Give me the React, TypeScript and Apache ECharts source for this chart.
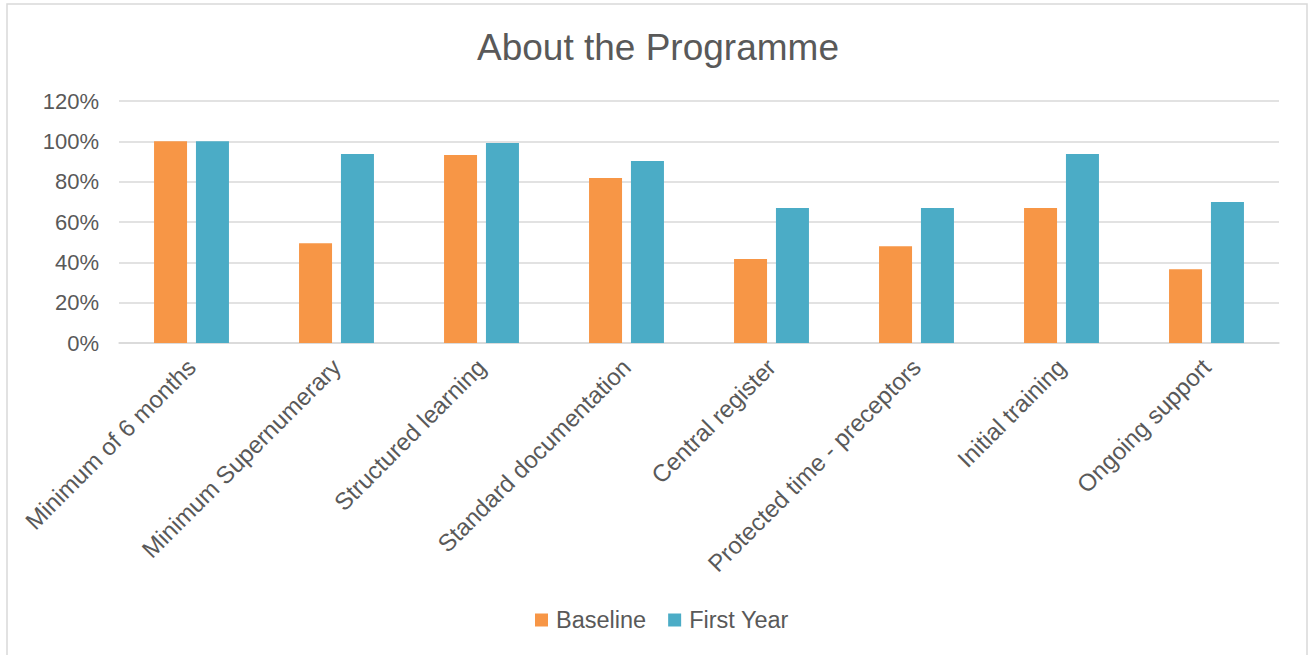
import React, { useEffect, useRef } from "react";
import * as echarts from "echarts";

const categories = [
  "Minimum of 6 months",
  "Minimum Supernumerary",
  "Structured learning",
  "Standard documentation",
  "Central register",
  "Protected time - preceptors",
  "Initial training",
  "Ongoing support",
];
const baseline = [1.0, 0.495, 0.932, 0.818, 0.416, 0.48, 0.669, 0.366];
const firstYear = [1.0, 0.937, 0.992, 0.902, 0.669, 0.669, 0.937, 0.699];
const seriesNames = ["Baseline", "First Year"];
const yTicks = { min: 0, max: 1.2, interval: 0.2 };

const FONT = "'Liberation Sans', Arial, sans-serif";
const TEXT = "#595959";
const GRIDC = "#d9d9d9";

export default function App() {
  const ref = useRef<HTMLDivElement>(null);
  useEffect(() => {
    if (!ref.current) return;
    const chart = echarts.init(ref.current, null, { renderer: "svg" });
    chart.setOption({
      animation: false,
      backgroundColor: "#ffffff",
      textStyle: { fontFamily: FONT },
      graphic: [
        {
          type: "rect",
          shape: { x: 7, y: 4, width: 1300, height: 700 },
          style: { fill: "none", stroke: GRIDC, lineWidth: 1.5 },
          silent: true,
        },
      ],
      title: {
        text: "About the Programme",
        left: 472,
        top: 24,
        textStyle: { fontFamily: FONT, fontSize: 37, fontWeight: "normal", color: TEXT },
      },
      legend: {
        data: seriesNames,
        left: 530,
        top: 603,
        icon: "rect",
        itemWidth: 13,
        itemHeight: 13,
        itemGap: 22,
        textStyle: { fontFamily: FONT, fontSize: 23.5, color: TEXT, padding: [0, 0, 0, 3] },
      },
      grid: { left: 119, right: 29, top: 101, bottom: 312, containLabel: false },
      xAxis: {
        type: "category",
        data: categories,
        axisLine: { show: true, lineStyle: { color: GRIDC, width: 1.5 } },
        axisTick: { show: false },
        axisLabel: {
          interval: 0,
          rotate: 45,
          margin: 20,
          fontFamily: FONT,
          fontSize: 24,
          color: TEXT,
        },
      },
      yAxis: {
        type: "value",
        min: yTicks.min,
        max: yTicks.max,
        interval: yTicks.interval,
        axisLine: { show: false },
        axisTick: { show: false },
        splitLine: { lineStyle: { color: GRIDC, width: 1.5 } },
        axisLabel: {
          margin: 20,
          fontFamily: FONT,
          fontSize: 22,
          color: TEXT,
          formatter: (v: number) => Math.round(v * 100) + "%",
        },
      },
      series: [
        {
          name: seriesNames[0],
          type: "bar",
          data: baseline,
          barWidth: 33,
          barGap: "27%",
          itemStyle: { color: "#F79646" },
        },
        {
          name: seriesNames[1],
          type: "bar",
          data: firstYear,
          barWidth: 33,
          barGap: "27%",
          itemStyle: { color: "#4BACC6" },
        },
      ],
    });
    return () => chart.dispose();
  }, []);
  return (
    <div
      ref={ref}
      style={{ position: "fixed", left: 0, top: 0, width: 1308, height: 655, background: "#fff" }}
    />
  );
}
